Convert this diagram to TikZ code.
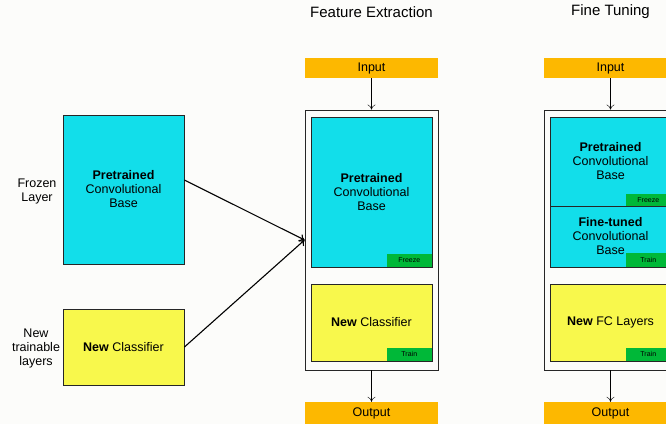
\documentclass[tikz,border=0pt]{standalone}
\usepackage{fontspec}
\setmainfont{Liberation Sans}
\usetikzlibrary{arrows.meta}
\tikzset{>={To[length=5pt,width=8pt]}}
\usepackage{xcolor}
\definecolor{bgcol}{HTML}{FCFCFA}
\definecolor{cnncol}{HTML}{12DEEA}
\definecolor{newcol}{HTML}{F8F84C}
\definecolor{iocol}{HTML}{FDB800}
\definecolor{tagcol}{HTML}{00B838}
\tikzset{
  box/.style={draw=black!85, line width=0.9pt, align=center, inner sep=0pt,
              font=\fontsize{12.5}{14}\selectfont},
  cnn/.style={box, fill=cnncol},
  newlayer/.style={box, fill=newcol},
  io/.style={fill=iocol, minimum width=133pt, inner sep=0pt,
             font=\fontsize{12.5}{14}\selectfont},
  outer/.style={draw=black!85, line width=0.9pt, fill=bgcol,
                minimum width=133pt, minimum height=260pt},
  tag/.style={fill=tagcol, minimum width=45pt, minimum height=13pt, inner sep=0pt,
              font=\fontsize{7}{8}\selectfont, anchor=south east},
  side/.style={align=center, font=\fontsize{12.5}{14}\selectfont},
  title/.style={font=\fontsize{15}{17}\selectfont},
}
\begin{document}
\begin{tikzpicture}[x=1pt,y=-1pt]
    \useasboundingbox (0,0) rectangle (666,424);
    \clip (0,0) rectangle (666,424);
    \fill[bgcol] (0,0) rectangle (666,424);
    \def\fe{371.5}
    \def\ft{610.5}

    % left column
    \node[side] (frozen) at (37,191) {Frozen\\Layer};
    \node[side] (trainable) at (36,348) {New\\trainable\\layers};
    \node[cnn, minimum width=121pt, minimum height=149pt] (lcnn) at (123.5,189.5)
        {\textbf{Pretrained}\\Convolutional\\Base};
    \node[newlayer, minimum width=121pt, minimum height=76pt] (lnew) at (123.5,347)
        {\textbf{New} Classifier};

    % feature extraction
    \node[title] (fetitle) at (\fe,12) {Feature Extraction};
    \node[io, minimum height=20pt] (fein) at (\fe,68) {Input};
    \node[outer] (feouter) at (\fe,240) {};
    \node[cnn, minimum width=121pt, minimum height=150pt] (fecnn) at (\fe,192)
        {\textbf{Pretrained}\\Convolutional\\Base};
    \node[tag] (fefreeze) at ([xshift=-0.45pt,yshift=0.45pt]fecnn.south east) {Freeze};
    \node[newlayer, minimum width=121pt, minimum height=77pt] (fenew) at (\fe,322.5)
        {\textbf{New} Classifier};
    \node[tag] (fetrain) at ([xshift=-0.45pt,yshift=0.45pt]fenew.south east) {Train};
    \node[io, minimum height=22pt] (feout) at (\fe,413) {Output};

    % fine tuning
    \node[title] (fttitle) at (\ft,12) {Fine Tuning};
    \node[io, minimum height=20pt] (ftin) at (\ft,68) {Input};
    \node[outer] (ftouter) at (\ft,240) {};
    \node[cnn, minimum width=121pt, minimum height=89pt] (ftcnn) at (\ft,161.5)
        {\textbf{Pretrained}\\Convolutional\\Base};
    \node[tag, minimum height=12pt] (ftfreeze) at ([xshift=-0.45pt,yshift=0.45pt]ftcnn.south east) {Freeze};
    \node[cnn, minimum width=121pt, minimum height=61pt] (fttuned) at (\ft,236.5)
        {\textbf{Fine-tuned}\\Convolutional\\Base};
    \node[tag, minimum height=14pt] (fttrain) at ([xshift=-0.45pt,yshift=0.45pt]fttuned.south east) {Train};
    \node[newlayer, minimum width=121pt, minimum height=77pt] (ftnew) at (\ft,322.5)
        {\textbf{New} FC Layers};
    \node[tag] (ftfctrain) at ([xshift=-0.45pt,yshift=0.45pt]ftnew.south east) {Train};
    \node[io, minimum height=22pt] (ftout) at (\ft,413) {Output};

    % connectors
    \draw[->, line width=1.1pt] ([yshift=9.5pt]lcnn.east) -- (feouter.west);
    \draw[->, line width=1.1pt] (lnew.east) -- (feouter.west);
    \draw[->] (fein) -- (feouter);
    \draw[->] (feouter) -- (feout);
    \draw[->] (ftin) -- (ftouter);
    \draw[->] (ftouter) -- (ftout);
\end{tikzpicture}
\end{document}
